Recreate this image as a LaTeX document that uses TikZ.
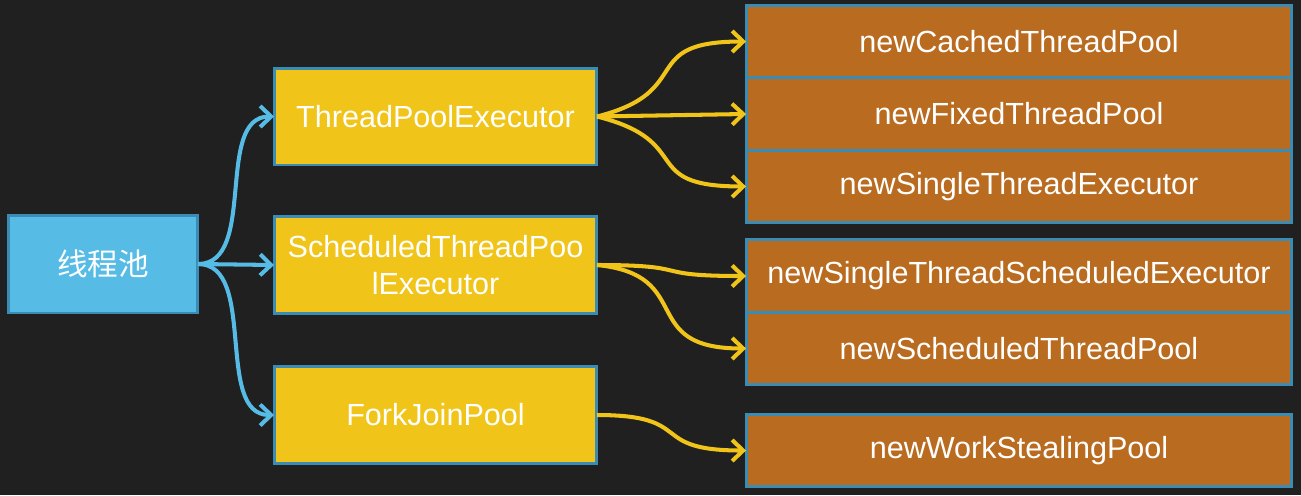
\documentclass[tikz,border=0pt]{standalone}
\usepackage{fontspec}
\setmainfont{Liberation Sans}
\newfontfamily\cjk{Noto Sans CJK SC}
\definecolor{chalkBg}{RGB}{32, 32, 32}
\definecolor{poolBlue}{RGB}{86, 188, 230}
\definecolor{edgeBlue}{RGB}{58, 140, 180}
\definecolor{execYellow}{RGB}{240, 196, 24}
\definecolor{factoryBrown}{RGB}{185, 107, 32}
\usetikzlibrary{arrows.meta, positioning}

\begin{document}
\begin{tikzpicture}[x=0.02cm, y=-0.02cm,
    box/.style={draw=edgeBlue, line width=1.7pt, inner sep=0pt, outer sep=0pt, text=white, align=center, font=\fontsize{17.4}{21}\selectfont},
    rootbox/.style={box, fill=poolBlue, minimum width=3.8cm, minimum height=1.96cm},
    execbox/.style={box, fill=execYellow, minimum width=6.46cm, minimum height=1.94cm},
    factorybox/.style={box, fill=factoryBrown, minimum width=10.92cm, minimum height=1.45cm},
    blueline/.style={draw=poolBlue, line width=2.3pt, -{Straight Barb[length=0.22cm, width=0.42cm]}},
    yellowline/.style={draw=execYellow, line width=2.3pt, -{Straight Barb[length=0.22cm, width=0.42cm]}}]
  \fill[chalkBg] (0,0) rectangle (1301,495);

  % pool and executors
  \node[rootbox] (pool) at (103,264) {\cjk 线程池};
  \node[execbox] (tpe) at (435.5,116.5) {ThreadPoolExecutor};
  \node[execbox] (stpe) at (435.5,265) {ScheduledThreadPoo\\lExecutor};
  \node[execbox] (fjp) at (435.5,415) {ForkJoinPool};

  % factory methods
  \node[factorybox] (cached) at (1019,41.5) {newCachedThreadPool};
  \node[factorybox, below=0pt of cached] (fixed) {newFixedThreadPool};
  \node[factorybox, below=0pt of fixed] (single) {newSingleThreadExecutor};
  \node[factorybox] (singlesched) at (1019,276) {newSingleThreadScheduledExecutor};
  \node[factorybox, below=0pt of singlesched] (sched) {newScheduledThreadPool};
  \node[factorybox] (stealing) at (1019,450.5) {newWorkStealingPool};

  \draw[blueline] (pool.east) .. controls +(60,0) and +(-60,0) .. (tpe.west);
  \draw[blueline] (pool.east) -- (stpe.west);
  \draw[blueline] (pool.east) .. controls +(60,0) and +(-60,0) .. (fjp.west);

  \draw[yellowline] (tpe.east) .. controls +(100,-25) and +(-110,0) .. (cached.west);
  \draw[yellowline] (tpe.east) -- (fixed.west);
  \draw[yellowline] (tpe.east) .. controls +(100,25) and +(-110,0) .. (single.west);
  \draw[yellowline] (stpe.east) .. controls +(100,0) and +(-100,0) .. (singlesched.west);
  \draw[yellowline] (stpe.east) .. controls +(100,10) and +(-110,0) .. (sched.west);
  \draw[yellowline] (fjp.east) .. controls +(100,0) and +(-100,0) .. (stealing.west);
\end{tikzpicture}
\end{document}
